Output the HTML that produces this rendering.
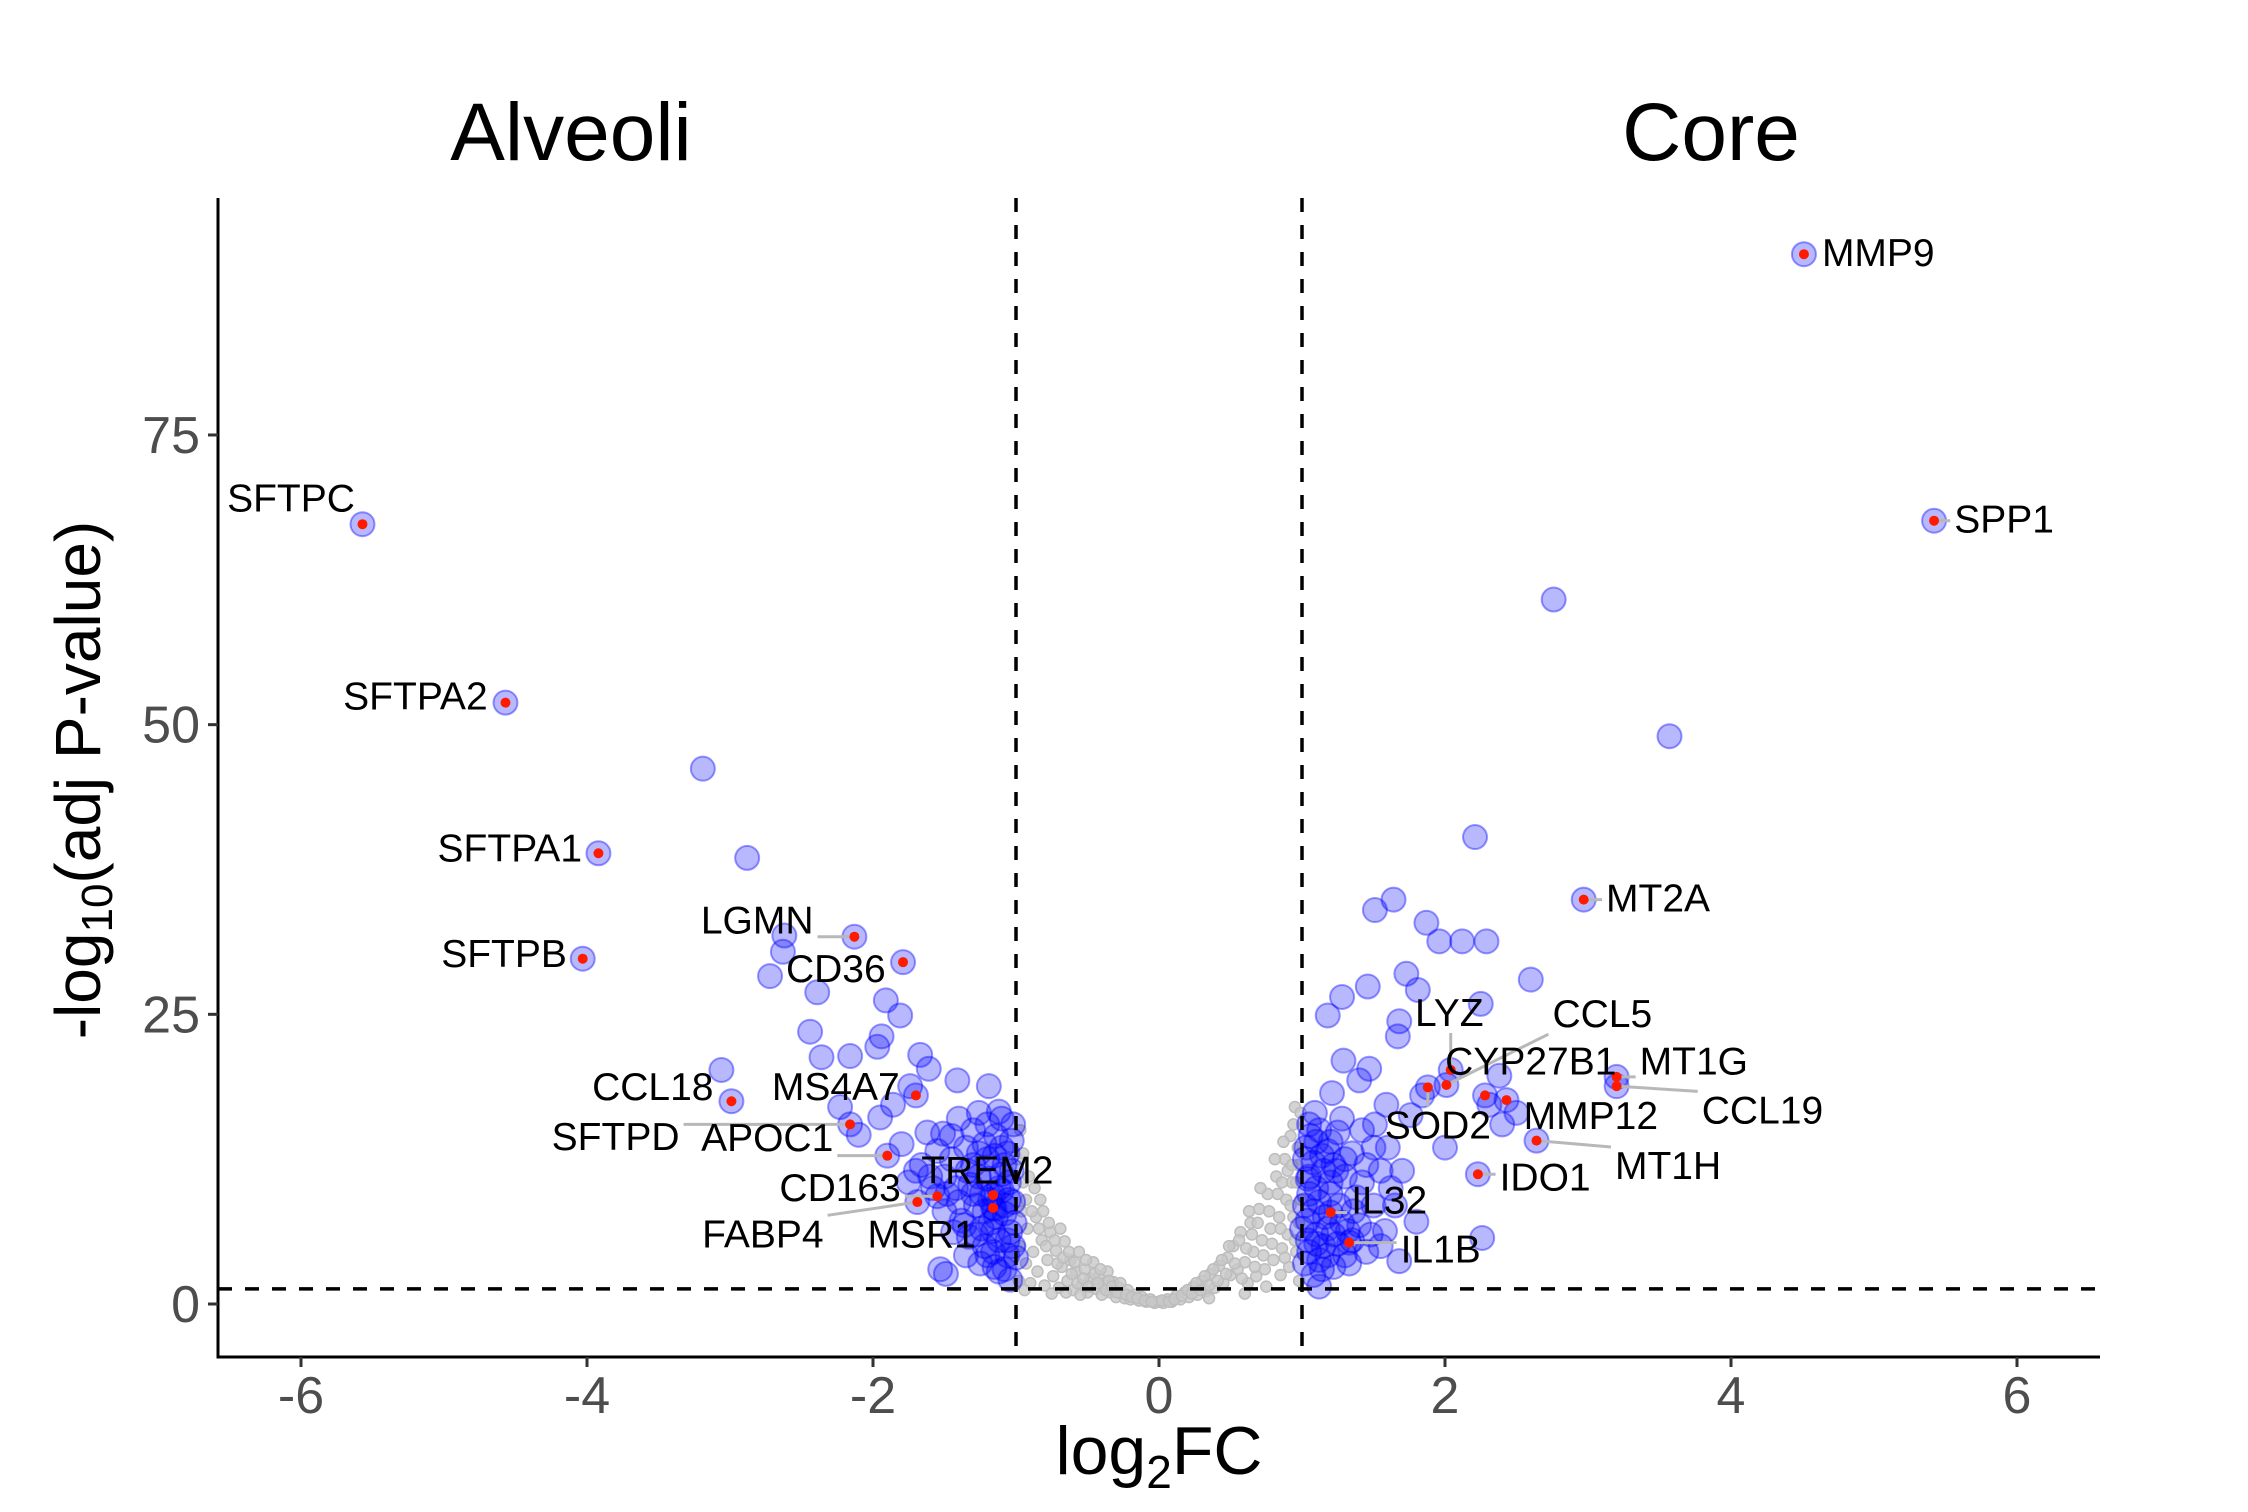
<!DOCTYPE html>
<html><head><meta charset="utf-8"><style>
html,body{margin:0;padding:0;background:#fff}
svg{display:block;font-family:"Liberation Sans",Arial,sans-serif}
</style></head><body>
<svg id="chart" width="2248" height="1512" viewBox="0 0 2248 1512" xmlns="http://www.w3.org/2000/svg">
<rect width="2248" height="1512" fill="#fff"/>
<g id="grey"></g>
<g id="blue"></g>
<g id="refs"></g>
<g id="segs"></g>
<g id="hl"></g>
<g id="labs"></g>
<g id="axes"></g>
<text x="571" y="160" font-size="82" text-anchor="middle">Alveoli</text>
<text x="1711" y="160" font-size="82" text-anchor="middle">Core</text>
<text x="1159" y="1474" font-size="68" text-anchor="middle">log<tspan font-size="46" dy="14">2</tspan><tspan dy="-14">FC</tspan></text>
<text transform="translate(100,780) rotate(-90)" font-size="64" text-anchor="middle">-log<tspan font-size="44" dy="12">10</tspan><tspan dy="-12">(adj P-value)</tspan></text>
</svg>
<script>
const xTicks=[-6,-4,-2,0,2,4,6];
const yTicks=[0,25,50,75];
const greyX=[-0.98,-0.97,-0.96,-0.95,-0.93,-0.92,-0.9,-0.88,-0.86,-0.85,-0.82,-0.8,-0.78,-0.76,-0.74,-0.72,-0.7,-0.68,-0.66,-0.64,-0.62,-0.6,-0.58,-0.56,-0.54,-0.52,-0.5,-0.48,-0.46,-0.44,-0.42,-0.4,-0.38,-0.36,-0.34,-0.32,-0.3,-0.28,-0.26,-0.24,-0.22,-0.2,-0.17,-0.14,-0.12,-0.09,-0.06,-0.03,0,0.03,0.06,0.09,0.12,0.15,0.18,0.21,0.24,0.27,0.3,0.33,0.36,0.39,0.42,0.45,0.48,0.5,0.52,0.55,0.57,0.6,0.62,0.64,0.66,0.68,0.7,0.72,0.74,0.76,0.78,0.8,0.82,0.84,0.85,0.86,0.88,0.89,0.9,0.91,0.92,0.93,0.94,0.95,0.96,0.97,0.98,0.99,-0.99,-0.94,-0.83,-0.65,0.35,-0.55,0.6,0.75,-0.75,
-0.95,-0.97,-0.93,-0.91,-0.89,-0.87,-0.84,-0.81,-0.79,-0.77,-0.73,-0.71,-0.69,-0.67,-0.63,-0.61,-0.59,-0.57,-0.53,-0.51,-0.49,-0.45,-0.43,-0.41,-0.37,-0.35,-0.33,-0.29,-0.27,-0.23,-0.19,-0.15,-0.1,-0.05,0.02,0.07,0.11,0.16,0.2,0.23,0.26,0.29,0.32,0.35,0.38,0.41,0.44,0.47,0.49,0.53,0.56,0.58,0.61,0.63,0.65,0.67,0.69,0.71,0.73,0.77,0.79,0.81,0.83,0.85,0.87,0.88,0.9,0.92,0.94,0.95,0.96,0.97,0.98,0.99,0.93,0.86];
const greyY=[2,5,8,10.5,3.5,6.5,1.8,4.5,7.5,2.8,5.5,1.6,3.8,6.2,2.4,4.6,1.4,3.2,5.4,2.0,3.8,1.2,2.8,4.5,1.6,3.0,1.0,2.2,3.6,1.3,2.4,0.8,1.8,2.8,1.0,1.9,0.6,1.4,0.9,0.5,1.2,0.4,0.8,0.3,0.6,0.2,0.4,0.1,0.2,0.1,0.4,0.2,0.7,0.4,1.0,0.6,1.5,0.8,2.0,1.1,2.6,1.4,3.3,1.8,4.0,2.5,5.0,3.0,6.2,3.6,1.8,7.0,4.5,2.4,8.2,5.5,3.0,9.5,6.5,3.8,11.0,7.5,2.5,4.8,12.5,9.0,6.0,3.2,14.5,10.5,7.5,17.0,4.5,12.0,2.0,9.0,12.5,1.2,9.0,1.0,0.5,0.8,0.9,1.5,0.9,
13,15,9,11,8,10,6.5,8,5,7,5.5,3.5,6.5,4,4.5,2.6,3.6,1.8,2.2,3.8,1.5,2.6,1.8,3.0,1.2,2.0,1.5,1.0,1.8,0.8,0.6,0.5,0.3,0.2,0.3,0.2,0.4,0.7,1.2,0.9,1.8,1.2,2.4,1.6,3.0,2.0,3.8,2.6,5.0,3.5,5.5,2.2,4.8,8.0,6.0,3.2,7.0,10.0,4.2,8.0,5.2,12.5,9.5,6.5,14.0,4.0,11.5,8.5,15.5,5.5,10.5,13.5,7.0,16.5,12.0,10.5];
const sigX=[-3.19,-2.88,-2.62,-2.63,-2.72,-2.39,-2.44,-3.06,-2.36,-2.16,-1.91,-1.81,-1.94,-1.97,-1.67,-1.61,-1.74,-1.41,-1.19,-2.23,-1.95,-1.86,-2.10,-1.51,-1.40,-1.26,-1.12,-1.03,-1.53,-1.49,-1.04,
-1.45,-1.35,-1.30,-1.22,-1.15,-1.08,-1.05,-1.10,-1.20,-1.32,-1.42,-1.60,-1.66,-1.75,-1.50,-1.38,-1.28,-1.18,-1.08,-1.04,-1.12,-1.22,-1.33,-1.44,-1.25,-1.15,-1.06,-1.02,-1.10,-1.18,-1.26,-1.06,-1.14,-1.30,-1.55,-1.62,-1.20,-1.08,-1.35,-1.02,-1.03,-1.16,-1.24,-1.40,-1.48,-1.02,-1.80,
-1.0,-1.05,-1.1,-1.12,-1.14,-1.16,-1.2,-1.24,-1.28,-1.3,-1.34,-1.36,-1.1,-1.2,-1.06,-1.01,-1.08,-1.22,-1.12,-1.26,-1.45,-1.58,-1.7,-1.5,-1.15,
2.76,3.57,2.21,1.64,1.51,1.87,1.96,2.12,2.29,2.60,1.73,1.46,1.28,1.81,2.25,1.18,1.68,1.67,1.29,1.47,1.40,2.38,1.21,1.59,1.76,2.0,1.51,2.50,2.26,1.68,1.12,1.80,1.58,2.31,1.84,2.40,
1.05,1.10,1.18,1.25,1.35,1.08,1.15,1.22,1.30,1.45,1.55,1.62,1.05,1.12,1.20,1.38,1.50,1.04,1.10,1.18,1.28,1.40,1.05,1.12,1.22,1.30,1.45,1.08,1.04,1.15,1.25,1.35,1.48,1.03,1.42,1.60,1.70,1.55,1.65,1.09,1.28,1.00,
1.02,1.05,1.08,1.1,1.14,1.16,1.2,1.22,1.26,1.3,1.32,1.06,1.12,1.18,1.02,1.04,1.24,1.36,1.42,1.14,1.5,1.2,1.33,1.02,1.1];
const sigY=[46.2,38.5,31.8,30.4,28.3,26.9,23.5,20.2,21.3,21.4,26.2,24.9,23.1,22.2,21.5,20.3,18.8,19.3,18.8,17.0,16.1,17.2,14.6,14.7,16.0,16.5,16.6,14.1,3.0,2.6,2.1,
12.5,13.5,12.0,13.8,12.8,12.0,10.5,9.8,10.8,10.3,10.0,11.0,12.0,10.5,8.0,7.2,8.5,7.0,7.8,6.2,5.5,5.0,5.8,6.2,3.5,3.2,4.2,8.8,11.2,9.0,11.0,13.0,14.5,15.0,13.2,14.8,4.2,3.0,4.2,5.0,11.5,6.3,6.5,8.8,9.5,15.5,13.8,
4,9,13.5,10,7.5,4.5,12.5,9.5,6,9.5,11.5,6.8,16,15.5,5.5,7,8.5,8,2.8,13,14.5,10,11.5,11,8.2,
60.8,49.0,40.3,34.9,34.0,32.9,31.3,31.3,31.3,28.0,28.5,27.4,26.5,27.1,25.9,24.9,24.4,23.1,21.0,20.3,19.3,19.7,18.2,17.2,16.3,13.5,15.5,16.5,5.7,3.7,1.5,7.1,6.3,17.2,18.0,15.5,
15.5,14.0,13.2,14.8,13.0,12.2,11.5,12.0,11.0,12.0,11.5,10.0,9.5,8.8,9.5,9.2,8.5,7.2,6.0,6.5,7.0,6.8,4.5,3.8,3.2,4.2,4.5,2.5,10.8,5.0,5.2,5.5,6.0,13.5,15.0,13.5,11.5,5.0,8.5,16.5,16.0,6.5,
12.5,11,8,10,12.8,7.5,10.5,6,8.5,12.5,6.3,14.5,15,4.2,8.5,5.5,11.5,8,10.5,3.0,13.5,14,3.5,3.5,5.2];
const genes=["SFTPC","SFTPA2","SFTPA1","SFTPB","LGMN","CD36","CCL18","MS4A7","SFTPD","APOC1","TREM2","CD163","FABP4","MSR1","MMP9","SPP1","MT2A","LYZ","CCL5","CYP27B1","MT1G","CCL19","MMP12","SOD2","MT1H","IDO1","IL32","IL1B"];
const geneX=[-5.57,-4.57,-3.92,-4.03,-2.13,-1.79,-2.99,-1.70,-2.16,-1.90,-1.16,-1.55,-1.69,-1.16,4.51,5.42,2.97,2.04,2.01,2.28,3.20,3.20,2.43,1.88,2.64,2.23,1.20,1.33];
const geneY=[67.3,51.9,38.9,29.8,31.7,29.5,17.5,18.0,15.5,12.8,9.4,9.3,8.8,8.3,90.6,67.6,34.9,20.2,18.9,18.0,19.6,18.8,17.6,18.7,14.1,11.2,7.9,5.3];
const labelX=[-6.07,-5.20,-4.54,-4.58,-2.81,-2.26,-3.54,-2.26,-3.80,-2.74,-1.20,-2.23,-2.77,-1.66,5.03,5.91,3.49,2.03,3.10,2.60,3.74,4.22,3.02,1.95,3.56,2.70,1.61,1.97];
const labelY=[69.6,52.5,39.4,30.3,33.2,29.0,18.8,18.8,14.5,14.4,11.6,10.1,6.1,6.1,90.8,67.8,35.1,25.2,25.1,21.0,21.0,16.8,16.3,15.5,12.0,11.0,9.0,4.8];

const NS='http://www.w3.org/2000/svg';
const X0=218,X1=2100,Y0=198,Y1=1357;
function sx(v){return 1159+143*v;}
function sy(v){return 1304-11.587*v;}
function mk(tag,attrs,parent){const e=document.createElementNS(NS,tag);for(const k in attrs)e.setAttribute(k,attrs[k]);parent.appendChild(e);return e;}

const grey=document.getElementById('grey');
for(let i=0;i<greyX.length;i++){
  const c=mk('circle',{cx:sx(greyX[i]),cy:sy(greyY[i]),r:5.5,fill:'rgba(200,200,200,0.8)',stroke:'#bdbdbd','stroke-width':1.5},grey);
  
  
}
const blue=document.getElementById('blue');
function bluePt(x,y){
  return mk('circle',{cx:sx(x),cy:sy(y),r:12,fill:'rgba(0,0,255,0.28)',stroke:'rgba(0,0,255,0.4)','stroke-width':2},blue);
}
for(let i=0;i<sigX.length;i++){
  const c=bluePt(sigX[i],sigY[i]);
  
  
}
for(let i=0;i<genes.length;i++){
  const c=bluePt(geneX[i],geneY[i]);
  
  
}

const refs=document.getElementById('refs');
[[sx(-1),Y0,sx(-1),Y1],[sx(1),Y0,sx(1),Y1],[X0,sy(1.3),X1,sy(1.3)]].forEach((l,i)=>{
  const e=mk('line',{x1:l[0],y1:l[1],x2:l[2],y2:l[3],stroke:'#000','stroke-width':3.5,'stroke-dasharray':'14,13'},refs);
  
  
});

const hl=document.getElementById('hl'),labs=document.getElementById('labs'),segs=document.getElementById('segs');
for(let i=0;i<genes.length;i++){
  const d=mk('circle',{cx:sx(geneX[i]),cy:sy(geneY[i]),r:5,fill:'#ff1a00'},hl);
  
  
  const t=mk('text',{x:sx(labelX[i]),y:sy(labelY[i])+14,'font-size':39,'text-anchor':'middle',fill:'#000'},labs);
  t.textContent=genes[i];
  
  
  const b=t.getBBox();
  const px=sx(geneX[i]),py=sy(geneY[i]);
  const qx=Math.max(b.x-4,Math.min(px,b.x+b.width+4)),qy=Math.max(b.y+2,Math.min(py,b.y+b.height-2));
  const dist=Math.hypot(qx-px,qy-py);
  if(dist>16){
    const s=mk('line',{x1:px,y1:py,x2:qx,y2:qy,stroke:'#b8b8b8','stroke-width':3},segs);
    
    
  }
}

const axes=document.getElementById('axes');
let e=mk('line',{x1:X0,y1:Y0,x2:X0,y2:Y1+1.5,stroke:'#000','stroke-width':3},axes);


e=mk('line',{x1:X0-1.5,y1:Y1,x2:X1,y2:Y1,stroke:'#000','stroke-width':3},axes);


xTicks.forEach(v=>{
  const tk=mk('line',{x1:sx(v),y1:Y1,x2:sx(v),y2:Y1+10,stroke:'#333','stroke-width':3},axes);
  
  
  const t=mk('text',{x:sx(v),y:1413,'font-size':52,'text-anchor':'middle',fill:'#4d4d4d'},axes);
  t.textContent=v;
  
  
});
yTicks.forEach(v=>{
  const tk=mk('line',{x1:X0-10,y1:sy(v),x2:X0,y2:sy(v),stroke:'#333','stroke-width':3},axes);
  
  
  const t=mk('text',{x:X0-18,y:sy(v)+18,'font-size':52,'text-anchor':'end',fill:'#4d4d4d'},axes);
  t.textContent=v;
  
  
});
</script>
</body></html>
